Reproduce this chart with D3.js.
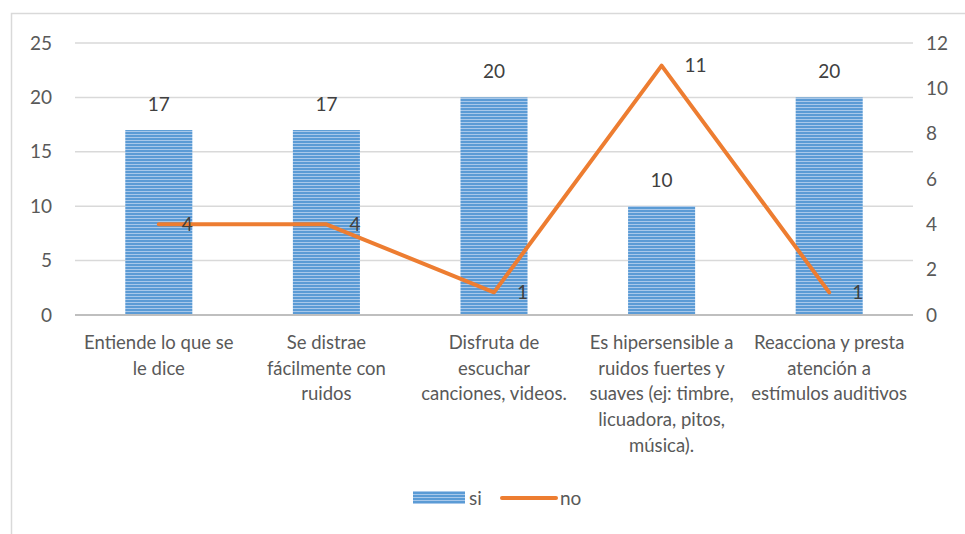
<!DOCTYPE html>
<html>
<head>
<meta charset="utf-8">
<script src="https://cdn.jsdelivr.net/npm/d3@7"></script>
<style>
  body { margin: 0; background: #fff; }
  svg text { font-family: Lato, "Open Sans", sans-serif; }
</style>
</head>
<body>
<div id="chart"></div>
<script>
const categories = [
    ['Entiende lo que se', 'le dice'],
    ['Se distrae', 'fácilmente con', 'ruidos'],
    ['Disfruta de', 'escuchar', 'canciones, videos.'],
    ['Es hipersensible a', 'ruidos fuertes y', 'suaves (ej: timbre,', 'licuadora, pitos,', 'música).'],
    ['Reacciona y presta', 'atención a', 'estímulos auditivos']
]
const siValues = [17, 17, 20, 10, 20]
const noValues = [4, 4, 1, 11, 1]
const leftTicks = [0, 5, 10, 15, 20, 25]
const rightTicks = [0, 2, 4, 6, 8, 10, 12]

const W = 965
const H = 534
const plot = { left: 75, right: 913, top: 43, bottom: 315 }
const fs = 19

const svg = d3.select('#chart').append('svg')
    .attr('width', W)
    .attr('height', H)

// stripes for the bars
const pat = svg.append('defs').append('pattern')
    .attr('id', 'stripes')
    .attr('patternUnits', 'userSpaceOnUse')
    .attr('width', 8)
    .attr('height', 3)
pat.append('rect').attr('width', 8).attr('height', 3).attr('fill', '#5b9bd5')
pat.append('rect').attr('y', 2).attr('width', 8).attr('height', 1).attr('fill', '#a8c8ea')

// chart border
svg.append('rect')
    .attr('x', 11.5).attr('y', 13.5)
    .attr('width', 960).attr('height', 540)
    .attr('fill', 'none')
    .attr('stroke', '#d9d9d9')
    .attr('stroke-width', 1.5)

const x = d3.scaleBand()
    .domain(d3.range(categories.length))
    .range([plot.left, plot.right])
    .paddingInner(0.6)
    .paddingOuter(0.3)
const xc = d3.scaleBand()
    .domain(d3.range(categories.length))
    .range([plot.left, plot.right])
const yL = d3.scaleLinear().domain([0, 25]).range([plot.bottom, plot.top])
const yR = d3.scaleLinear().domain([0, 12]).range([plot.bottom, plot.top])

// gridlines
svg.append('g').selectAll('line')
    .data(leftTicks.filter(d => d > 0))
    .join('line')
    .attr('x1', plot.left).attr('x2', plot.right)
    .attr('y1', d => yL(d)).attr('y2', d => yL(d))
    .attr('stroke', '#d9d9d9')
    .attr('stroke-width', 1.5)

// left axis labels
svg.append('g').selectAll('text')
    .data(leftTicks)
    .join('text')
    .attr('x', 52)
    .attr('y', d => yL(d))
    .attr('dy', '0.35em')
    .attr('text-anchor', 'end')
    .attr('fill', '#595959')
    .attr('font-size', fs)
    .text(d => d)

// right axis labels
svg.append('g').selectAll('text')
    .data(rightTicks)
    .join('text')
    .attr('x', 926)
    .attr('y', d => yR(d))
    .attr('dy', '0.35em')
    .attr('fill', '#595959')
    .attr('font-size', fs)
    .text(d => d)

// bars
svg.append('g').selectAll('rect')
    .data(siValues)
    .join('rect')
    .attr('x', (d, i) => x(i))
    .attr('y', d => yL(d))
    .attr('width', x.bandwidth())
    .attr('height', d => yL(0) - yL(d))
    .attr('fill', 'url(#stripes)')

// axis baseline
svg.append('line')
    .attr('x1', plot.left).attr('x2', plot.right)
    .attr('y1', plot.bottom).attr('y2', plot.bottom)
    .attr('stroke', '#bfbfbf')
    .attr('stroke-width', 2)

// bar labels
svg.append('g').selectAll('text')
    .data(siValues)
    .join('text')
    .attr('x', (d, i) => x(i) + x.bandwidth() / 2)
    .attr('y', d => yL(d) - 19)
    .attr('text-anchor', 'middle')
    .attr('fill', '#404040')
    .attr('font-size', fs)
    .text(d => d)

// line series
const line = d3.line()
    .x((d, i) => xc(i) + xc.bandwidth() / 2)
    .y(d => yR(d))
svg.append('path')
    .datum(noValues)
    .attr('d', line)
    .attr('fill', 'none')
    .attr('stroke', '#ed7d31')
    .attr('stroke-width', 4)
    .attr('stroke-linecap', 'round')
    .attr('stroke-linejoin', 'round')

svg.append('g').selectAll('text')
    .data(noValues)
    .join('text')
    .attr('x', (d, i) => xc(i) + xc.bandwidth() / 2 + 23)
    .attr('y', d => yR(d))
    .attr('dy', '0.35em')
    .attr('fill', '#404040')
    .attr('font-size', fs)
    .text(d => d)

// category labels
const cat = svg.append('g').selectAll('text')
    .data(categories)
    .join('text')
    .attr('x', (d, i) => xc(i) + xc.bandwidth() / 2)
    .attr('y', 349)
    .attr('text-anchor', 'middle')
    .attr('fill', '#595959')
    .attr('font-size', 18.5)
cat.selectAll('tspan')
    .data(d => d)
    .join('tspan')
    .attr('x', function () { return this.parentNode.getAttribute('x') })
    .attr('dy', (d, i) => i === 0 ? 0 : 25.7)
    .text(d => d)

// legend
const lg = svg.append('g')
lg.append('rect')
    .attr('x', 413).attr('y', 491)
    .attr('width', 52).attr('height', 13)
    .attr('fill', 'url(#stripes)')
lg.append('text')
    .attr('x', 469).attr('y', 498).attr('dy', '0.35em')
    .attr('fill', '#595959').attr('font-size', fs)
    .text('si')
lg.append('line')
    .attr('x1', 502).attr('x2', 556)
    .attr('y1', 498).attr('y2', 498)
    .attr('stroke', '#ed7d31').attr('stroke-width', 4)
    .attr('stroke-linecap', 'round')
lg.append('text')
    .attr('x', 560).attr('y', 498).attr('dy', '0.35em')
    .attr('fill', '#595959').attr('font-size', fs)
    .text('no')
</script>
</body>
</html>
